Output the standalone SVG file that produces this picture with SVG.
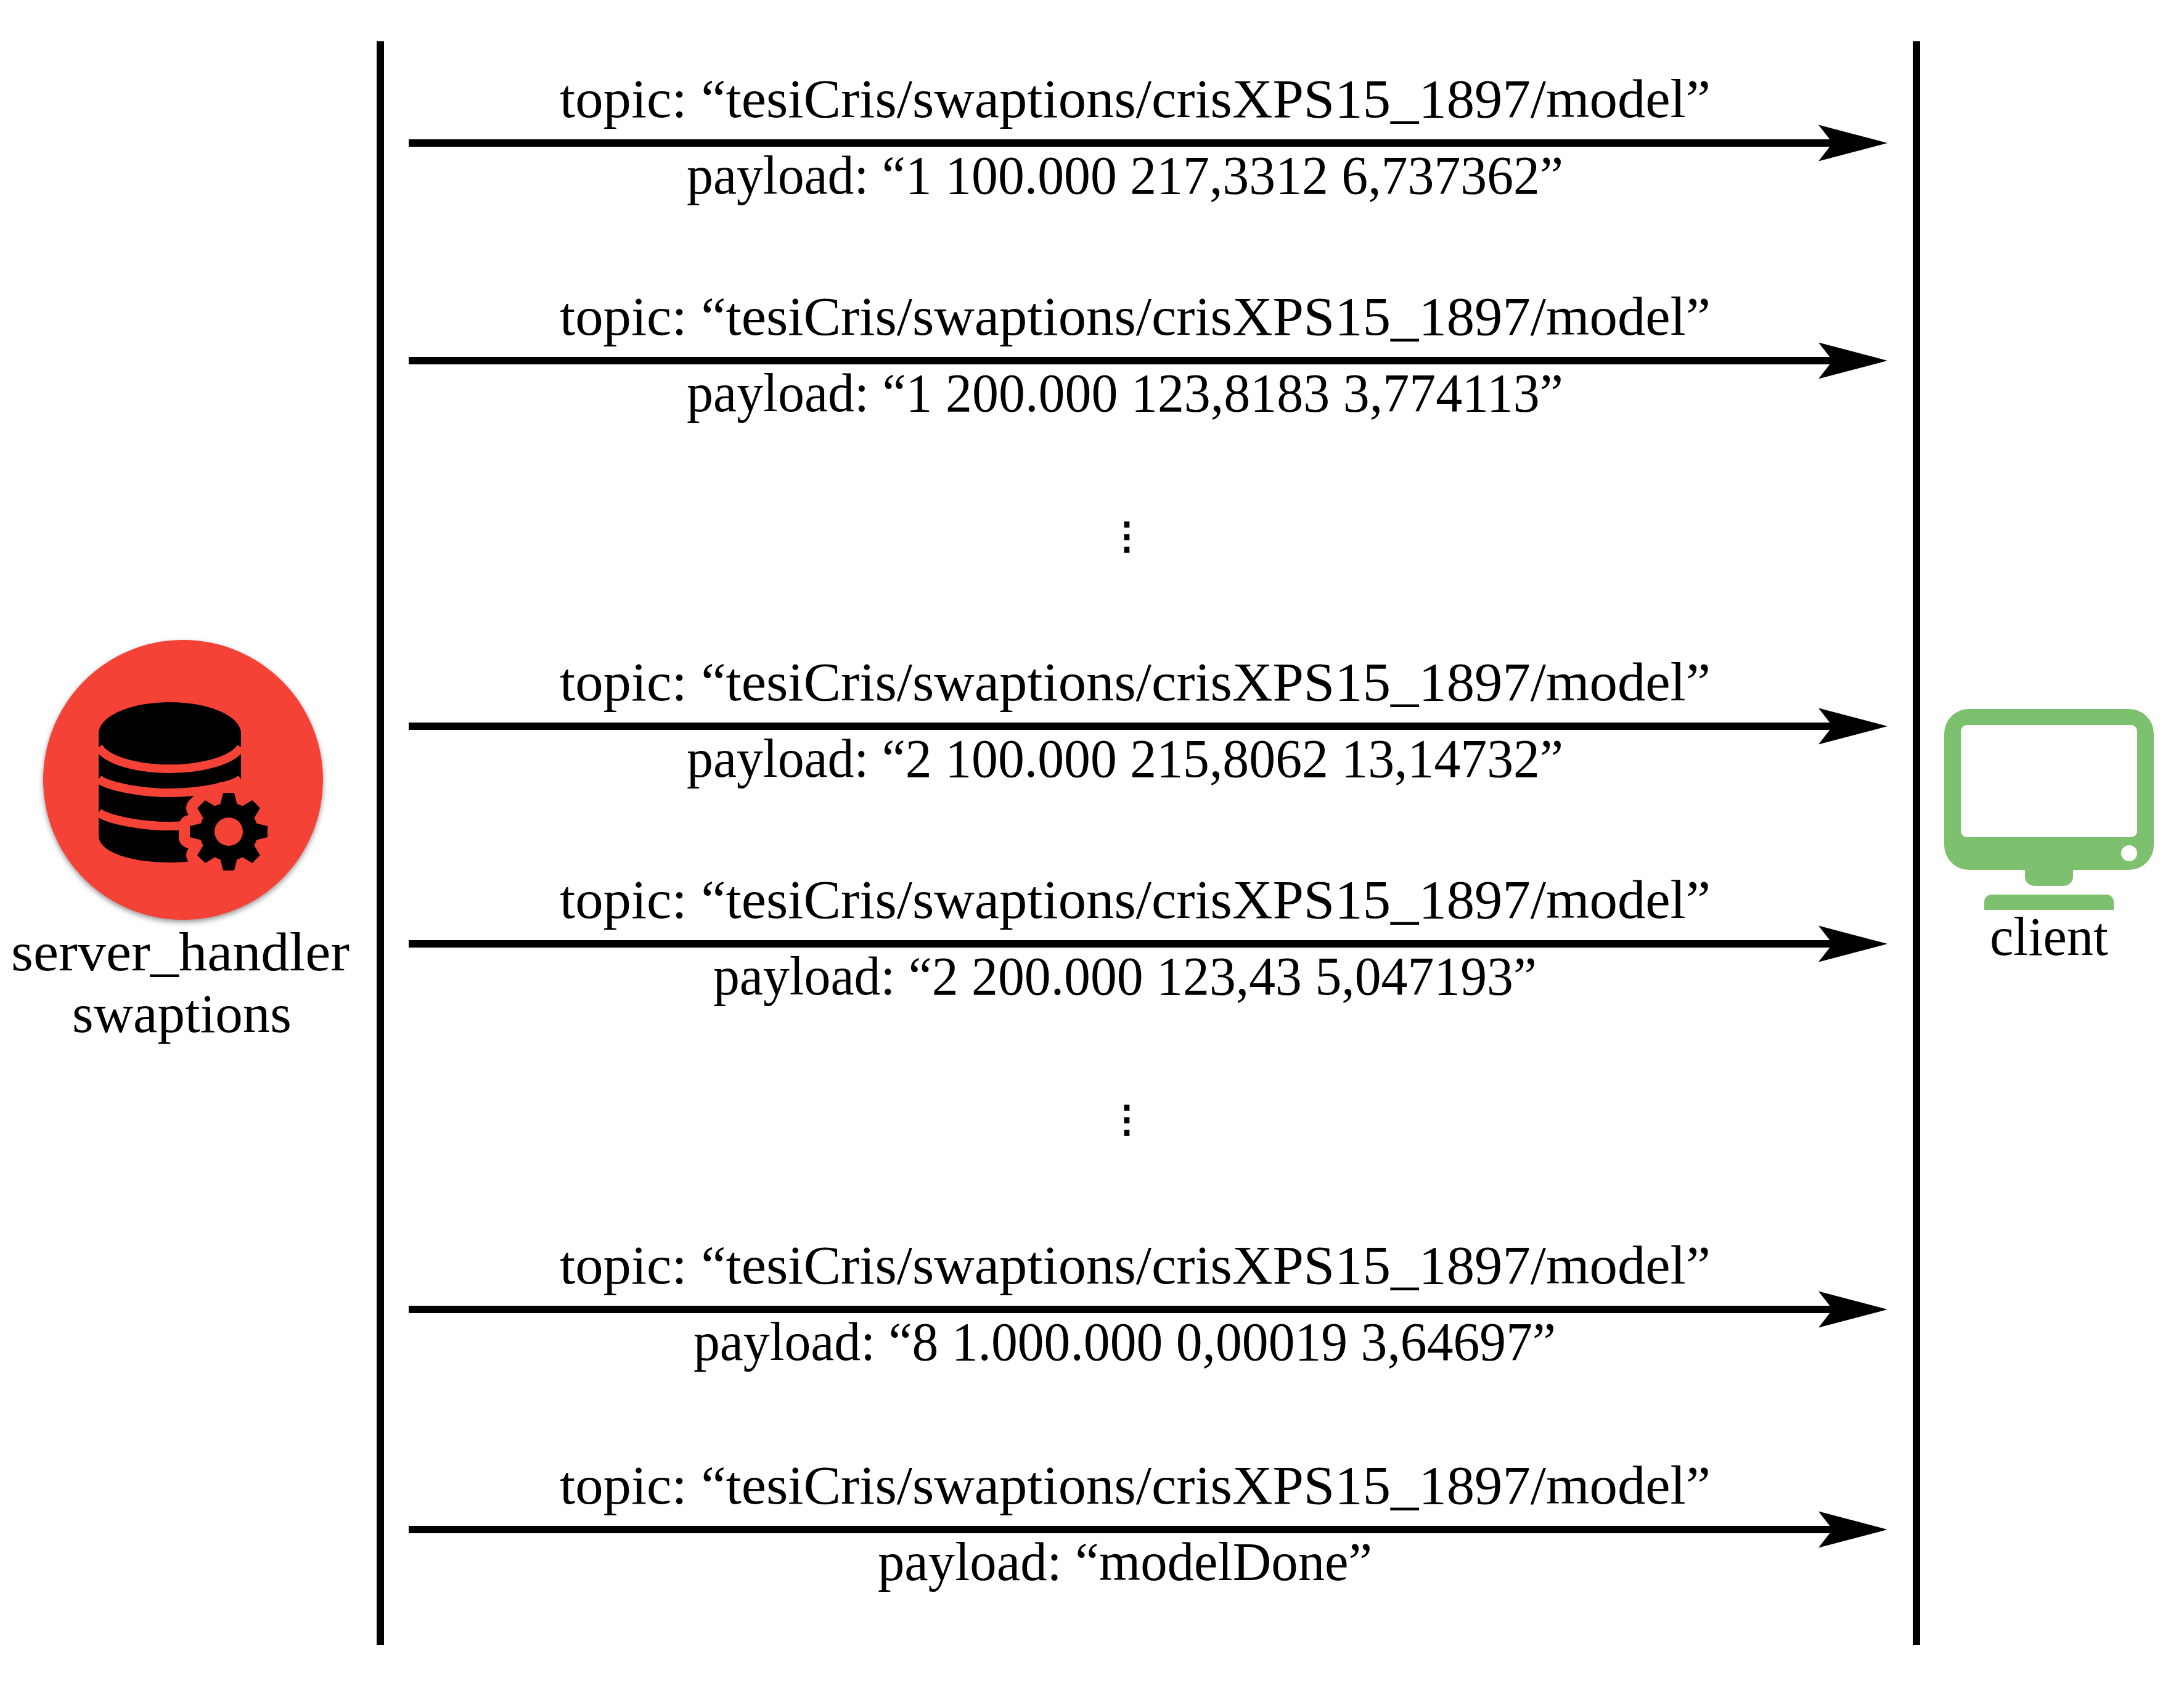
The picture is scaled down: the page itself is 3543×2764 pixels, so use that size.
<svg xmlns="http://www.w3.org/2000/svg" xmlns:xlink="http://www.w3.org/1999/xlink" width="3543" height="2764" viewBox="0 0 3543 2764">
<style>
text{font-family:"Liberation Serif","Times New Roman",serif;font-size:88px;fill:#000}
.life{stroke:#000;stroke-width:12;fill:none}
.msg{stroke:#000;stroke-width:12;fill:none;marker-end:url(#head)}
.band{stroke:#F44336;stroke-width:14;fill:none}
text.dots{font-family:"DejaVu Sans",sans-serif;font-size:60px;text-anchor:middle;stroke:#000;stroke-width:2.500px}
</style>
<defs>
<marker id="head" markerUnits="userSpaceOnUse" markerWidth="114" markerHeight="62" refX="35" refY="30" orient="auto"><path d="M0 0.5L112 30L0 59.5L23 30Z" fill="#000"/></marker>
<filter id="soft" x="-10%" y="-10%" width="120%" height="120%"><feGaussianBlur stdDeviation="4"/></filter>
<g id="gear"><circle cx="371" cy="1349" r="47"/>
<g id="tooth"><path d="M357 1306L362 1286H380L385 1306Z"/></g>
<use xlink:href="#tooth" transform="rotate(45 371 1349)"/><use xlink:href="#tooth" transform="rotate(90 371 1349)"/><use xlink:href="#tooth" transform="rotate(135 371 1349)"/><use xlink:href="#tooth" transform="rotate(180 371 1349)"/><use xlink:href="#tooth" transform="rotate(225 371 1349)"/><use xlink:href="#tooth" transform="rotate(270 371 1349)"/><use xlink:href="#tooth" transform="rotate(315 371 1349)"/></g>
</defs>
<rect width="3543" height="2764" fill="#fff"/>
<g id="connectors">
<line class="life" x1="617" y1="67" x2="617" y2="2668"/>
<line class="life" x1="3109" y1="67" x2="3109" y2="2668"/>
<line class="msg" x1="663" y1="232" x2="2985" y2="232"/>
<line class="msg" x1="663" y1="585" x2="2985" y2="585"/>
<line class="msg" x1="663" y1="1178" x2="2985" y2="1178"/>
<line class="msg" x1="663" y1="1531" x2="2985" y2="1531"/>
<line class="msg" x1="663" y1="2124" x2="2985" y2="2124"/>
<line class="msg" x1="663" y1="2481" x2="2985" y2="2481"/>
</g>
<g id="server">
<circle cx="297" cy="1269" r="227" fill="#999" filter="url(#soft)"/>
<circle cx="297" cy="1265" r="227" fill="#F44336"/>
<path d="M160 1190V1355C160 1385 220 1399 275 1399C330 1399 391 1385 391 1355V1190Z" fill="#000"/>
<path class="band" d="M160 1212C175 1235 225 1247 275 1247C325 1247 376 1235 391 1212"/>
<path class="band" d="M160 1264C175 1275 225 1286 275 1286C325 1286 376 1275 391 1264"/>
<path class="band" d="M160 1318C175 1329 225 1340 275 1340C325 1340 376 1329 391 1318"/>
<ellipse cx="275.500" cy="1189.500" rx="115.500" ry="50.500" fill="#000"/>
<use xlink:href="#gear" fill="#F44336" stroke="#F44336" stroke-width="36" stroke-linejoin="round"/>
<use xlink:href="#gear" fill="#000"/>
<circle cx="371" cy="1349" r="23" fill="#F44336"/>
<text x="18" y="1574" textLength="549" lengthAdjust="spacingAndGlyphs">server_handler</text>
<text x="117" y="1674" textLength="356" lengthAdjust="spacingAndGlyphs">swaptions</text>
</g>
<g id="client">
<path fill="#7DC06D" fill-rule="evenodd" d="M3194 1150H3454A40 40 0 0 1 3494 1190V1371A40 40 0 0 1 3454 1411H3363V1422A15 15 0 0 1 3348 1437H3300A15 15 0 0 1 3285 1422V1411H3194A40 40 0 0 1 3154 1371V1190A40 40 0 0 1 3194 1150ZM3191 1176A10 10 0 0 0 3181 1186V1348A10 10 0 0 0 3191 1358H3457A10 10 0 0 0 3467 1348V1186A10 10 0 0 0 3457 1176Z"/>
<path fill="#7DC06D" d="M3219 1476V1463A12 12 0 0 1 3231 1451H3417A12 12 0 0 1 3429 1463V1476Z"/>
<circle cx="3454" cy="1384" r="13" fill="#fff"/>
<text x="3228" y="1549" textLength="192" lengthAdjust="spacingAndGlyphs">client</text>
</g>
<g id="messages">
<text x="908" y="190" textLength="1867" lengthAdjust="spacingAndGlyphs">topic: “tesiCris/swaptions/crisXPS15_1897/model”</text>
<text x="1114" y="314" textLength="1422" lengthAdjust="spacingAndGlyphs">payload: “1 100.000 217,3312 6,737362”</text>
<text x="908" y="543" textLength="1867" lengthAdjust="spacingAndGlyphs">topic: “tesiCris/swaptions/crisXPS15_1897/model”</text>
<text x="1114" y="667" textLength="1422" lengthAdjust="spacingAndGlyphs">payload: “1 200.000 123,8183 3,774113”</text>
<text class="dots" x="1828" y="890">⋮</text>
<text x="908" y="1136" textLength="1867" lengthAdjust="spacingAndGlyphs">topic: “tesiCris/swaptions/crisXPS15_1897/model”</text>
<text x="1114" y="1260" textLength="1422" lengthAdjust="spacingAndGlyphs">payload: “2 100.000 215,8062 13,14732”</text>
<text x="908" y="1489" textLength="1867" lengthAdjust="spacingAndGlyphs">topic: “tesiCris/swaptions/crisXPS15_1897/model”</text>
<text x="1157" y="1613" textLength="1336" lengthAdjust="spacingAndGlyphs">payload: “2 200.000 123,43 5,047193”</text>
<text class="dots" x="1828" y="1836">⋮</text>
<text x="908" y="2082" textLength="1867" lengthAdjust="spacingAndGlyphs">topic: “tesiCris/swaptions/crisXPS15_1897/model”</text>
<text x="1125" y="2206" textLength="1399" lengthAdjust="spacingAndGlyphs">payload: “8 1.000.000 0,00019 3,64697”</text>
<text x="908" y="2439" textLength="1867" lengthAdjust="spacingAndGlyphs">topic: “tesiCris/swaptions/crisXPS15_1897/model”</text>
<text x="1424" y="2563" textLength="802" lengthAdjust="spacingAndGlyphs">payload: “modelDone”</text>
</g>
</svg>
